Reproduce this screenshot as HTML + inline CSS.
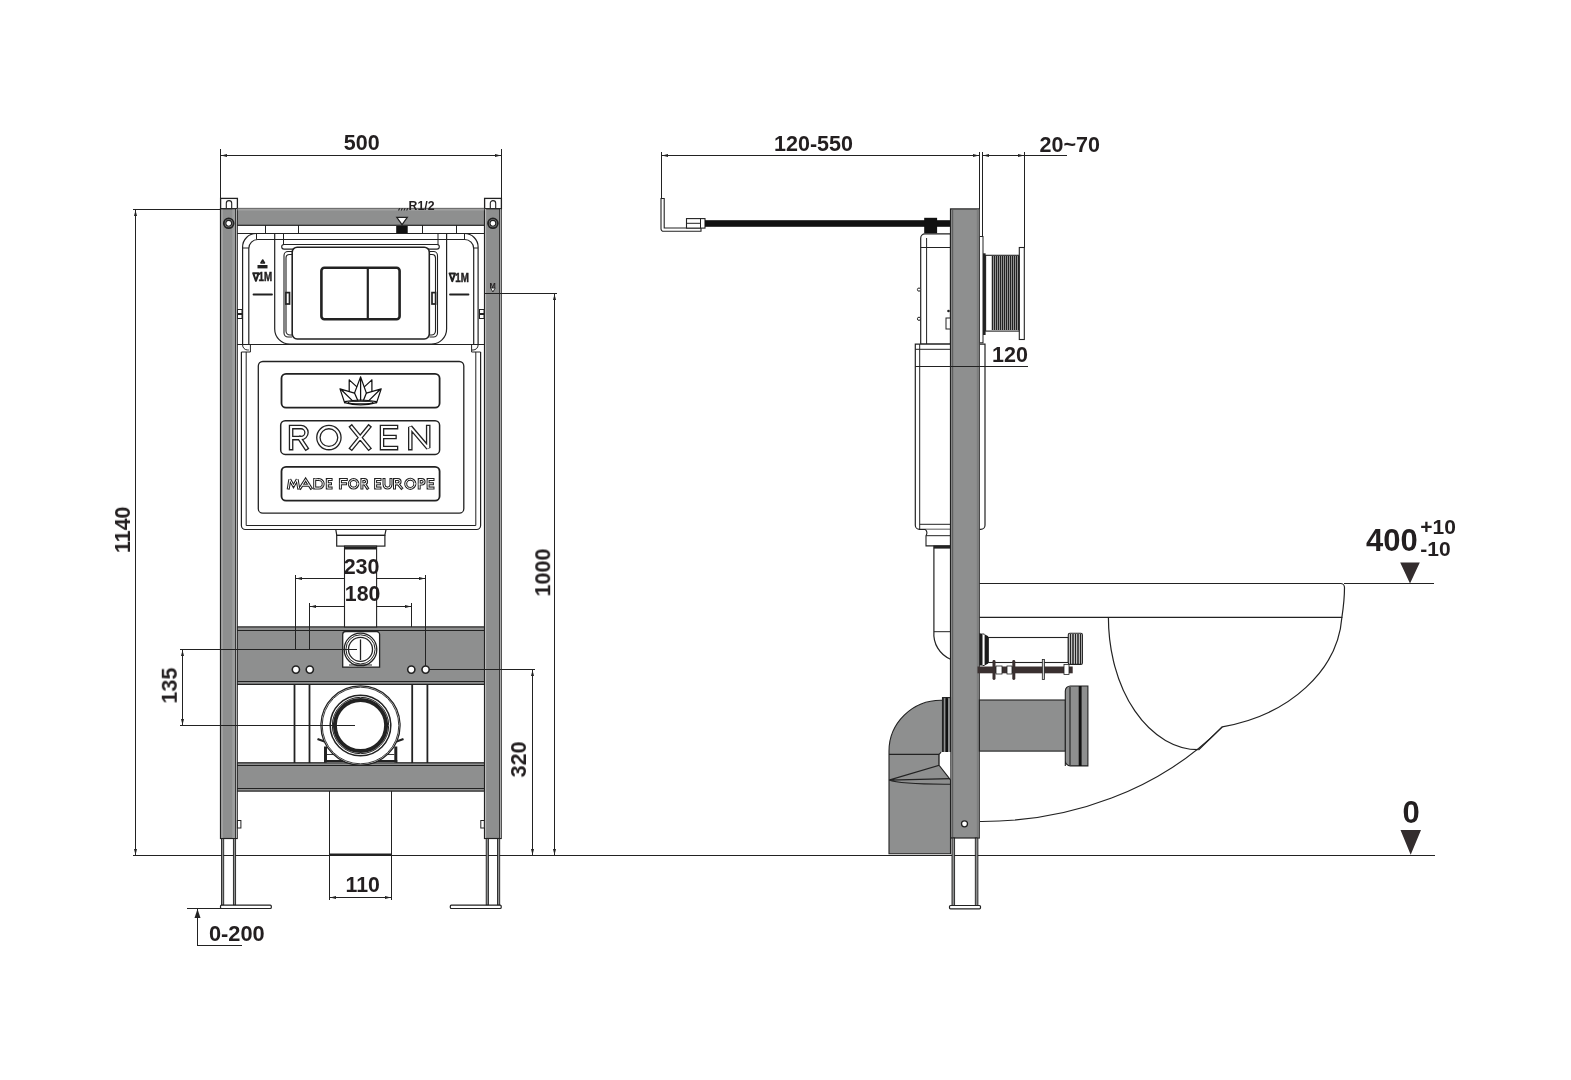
<!DOCTYPE html>
<html><head><meta charset="utf-8">
<style>
html,body{margin:0;padding:0;background:#fff;}
body{width:1571px;height:1080px;overflow:hidden;position:relative;}
svg{position:absolute;left:0;top:0;}
text{will-change:transform;}
text{font-family:"Liberation Sans",sans-serif;font-weight:bold;fill:#231f20;}
</style></head><body>
<svg width="1571" height="1080" viewBox="0 0 1571 1080">
<rect x="0" y="0" width="1571" height="1080" fill="#fff"/>
<!-- ===== LEFT DRAWING ===== -->
<g stroke="#222" fill="none" stroke-width="1">
  <!-- 500 dim -->
  <line x1="220.5" y1="149" x2="220.5" y2="198"/>
  <line x1="501.5" y1="149" x2="501.5" y2="198"/>
  <line x1="220.5" y1="155.5" x2="501.5" y2="155.5"/>
  <path d="M221 155.5 l6 -1.5 v3 z M501 155.5 l-6 -1.5 v3 z" fill="#222" stroke="none"/>
  <!-- 1140 dim -->
  <line x1="133" y1="209.5" x2="221" y2="209.5"/>
  <line x1="135.5" y1="209.5" x2="135.5" y2="855.5"/>
  <path d="M135.5 210 l-1.5 6 h3 z M135.5 855 l-1.5 -6 h3 z" fill="#222" stroke="none"/>
  <!-- floor -->
  <line x1="133" y1="855.5" x2="1435" y2="855.5"/>
  <!-- 1000 dim -->
  
  <line x1="554.5" y1="293.5" x2="554.5" y2="855.5"/>
  <path d="M554.5 294 l-1.5 6 h3 z M554.5 855 l-1.5 -6 h3 z" fill="#222" stroke="none"/>
  <!-- 320 dim -->
  
  <line x1="532.5" y1="669.5" x2="532.5" y2="855.5"/>
  <path d="M532.5 670 l-1.5 6 h3 z M532.5 855 l-1.5 -6 h3 z" fill="#222" stroke="none"/>
  <!-- 135 dim -->
  
  
  <line x1="182.5" y1="649.5" x2="182.5" y2="725.5"/>
  <path d="M182.5 650 l-1.5 6 h3 z M182.5 725 l-1.5 -6 h3 z" fill="#222" stroke="none"/>
  <!-- 230 / 180 dims -->
  <line x1="295.5" y1="578.5" x2="425.5" y2="578.5"/>
  
  
  <line x1="309.5" y1="606.5" x2="411.5" y2="606.5"/>
  
  <line x1="411.5" y1="603" x2="411.5" y2="627"/>
  <path d="M296 578.5 l6 -1.5 v3 z M425 578.5 l-6 -1.5 v3 z M310 606.5 l6 -1.5 v3 z M411 606.5 l-6 -1.5 v3 z" fill="#222" stroke="none"/>
  <!-- 110 dim -->
  <line x1="329.5" y1="791" x2="329.5" y2="900"/>
  <line x1="391.5" y1="791" x2="391.5" y2="900"/>
  <line x1="329.5" y1="897.5" x2="391.5" y2="897.5"/>
  <line x1="329.5" y1="854.5" x2="391.5" y2="854.5" stroke-width="2"/>
  <path d="M330 897.5 l6 -1.5 v3 z M391 897.5 l-6 -1.5 v3 z" fill="#222" stroke="none"/>
  <!-- 0-200 -->
  <line x1="187" y1="908.5" x2="221" y2="908.5"/>
  <line x1="197.5" y1="909" x2="197.5" y2="945.5"/>
  <line x1="197" y1="945.5" x2="242" y2="945.5"/>
  <path d="M197.5 909 l-3 9 h6 z" fill="#222" stroke="none"/>
</g>

<!-- frame -->
<g stroke="#222" stroke-width="1.2" fill="#8e8f8f">
  <!-- brackets -->
  <rect x="220.6" y="198.4" width="16.8" height="10.4" fill="#fff" stroke-width="1.3"/>
  <rect x="484.6" y="198.4" width="16.8" height="10.4" fill="#fff" stroke-width="1.3"/>
  <path d="M226.3 208.5 V203.3 a2.7 2.7 0 0 1 5.4 0 V208.5" fill="none" stroke-width="1.1"/>
  <path d="M490.3 208.5 V203.3 a2.7 2.7 0 0 1 5.4 0 V208.5" fill="none" stroke-width="1.1"/>
  <rect x="220.5" y="208.8" width="16.7" height="629.7"/>
  <rect x="484.5" y="208.8" width="16.7" height="629.7"/>
  <rect x="237.2" y="208.5" width="247.3" height="16.8"/>
  <line x1="237.5" y1="208.5" x2="484.3" y2="208.5" stroke="#707070" stroke-width="1.2"/>
  <line x1="237.5" y1="209.8" x2="484.3" y2="209.8" stroke="#b4b4b4" stroke-width="0.9"/>
  <rect x="237.2" y="626.9" width="247.3" height="57.5"/>
  <rect x="237.2" y="762.8" width="247.3" height="28.3"/>
</g>
<g stroke="#222" stroke-width="1" fill="none">
  <rect x="232.3" y="209.5" width="3" height="628.5" fill="#9d9e9e" stroke="none"/>
  <line x1="222" y1="209.5" x2="222" y2="838" stroke="#b8b8b8" stroke-width="0.9"/>
  <line x1="235.6" y1="209" x2="235.6" y2="838" stroke-width="0.9"/>
  <line x1="236.5" y1="209" x2="236.5" y2="838" stroke="#c8c8c8" stroke-width="0.8"/>
  <line x1="485.6" y1="209" x2="485.6" y2="838" stroke="#c8c8c8" stroke-width="0.9"/>
  <line x1="499.6" y1="209" x2="499.6" y2="838" stroke-width="0.9"/>
  <line x1="500.6" y1="209" x2="500.6" y2="838" stroke="#c8c8c8" stroke-width="0.8"/>
  <text x="489.6" y="287.6" font-family="Liberation Sans" font-weight="bold" font-size="7.5" fill="#222" stroke="none">M</text>
  <path d="M490.6 288 h4.6 l-2.3 4 z" fill="#fff" stroke-width="0.9"/>
  <line x1="237" y1="630.5" x2="484.5" y2="630.5"/>
  <line x1="237" y1="681.5" x2="484.5" y2="681.5"/>
  <line x1="237" y1="765.5" x2="484.5" y2="765.5"/>
  <line x1="237" y1="788.5" x2="484.5" y2="788.5"/>
  <line x1="220.5" y1="293.5" x2="501" y2="293.5" stroke="none"/>
  <line x1="485" y1="293.5" x2="501" y2="293.5"/>
  <!-- screws -->
  <circle cx="228.7" cy="223.3" r="4.9" fill="#8e8f8f" stroke-width="1.8"/>
  <circle cx="228.7" cy="223.3" r="2.9" fill="#fff" stroke-width="1.1"/>
  <circle cx="228.7" cy="223.3" r="1.6" fill="#fff" stroke="none"/>
  <circle cx="492.9" cy="223.3" r="4.9" fill="#8e8f8f" stroke-width="1.8"/>
  <circle cx="492.9" cy="223.3" r="2.9" fill="#fff" stroke-width="1.1"/>
  <circle cx="492.9" cy="223.3" r="1.6" fill="#fff" stroke="none"/>
  <!-- legs -->
  <rect x="221.5" y="838.5" width="2.2" height="66.7" fill="#8e8f8f" stroke-width="0.9"/>
  <rect x="233.4" y="838.5" width="2.2" height="66.7" fill="#8e8f8f" stroke-width="0.9"/>
  <rect x="486.2" y="838.5" width="2.2" height="66.7" fill="#8e8f8f" stroke-width="0.9"/>
  <rect x="497.5" y="838.5" width="2.2" height="66.7" fill="#8e8f8f" stroke-width="0.9"/>
  <rect x="220.5" y="905.2" width="50.8" height="3.3" fill="#fff" stroke-width="1.2" rx="1"/>
  <rect x="450.3" y="905.2" width="50.9" height="3.3" fill="#fff" stroke-width="1.2" rx="1"/>
  <rect x="237.4" y="820.5" width="3.5" height="7.5" fill="#fff"/>
  <rect x="480.8" y="820.5" width="3.5" height="7.5" fill="#fff"/>
  <!-- side tabs near module -->
  <rect x="237.5" y="309.5" width="4.5" height="9" fill="#fff"/>
  <line x1="237.5" y1="314" x2="242" y2="314" stroke-width="2"/>
  <rect x="479.5" y="309.5" width="4.5" height="9" fill="#fff"/>
  <line x1="479.5" y1="314" x2="484" y2="314" stroke-width="2"/>
</g>

<!-- upper module -->
<g stroke="#222" stroke-width="1" fill="none">
  <line x1="237" y1="233.5" x2="484.5" y2="233.5"/>
  <line x1="265.5" y1="225" x2="265.5" y2="233.5"/>
  <line x1="298.5" y1="225" x2="298.5" y2="233.5"/>
  <line x1="422.5" y1="225" x2="422.5" y2="233.5"/>
  <line x1="456.5" y1="225" x2="456.5" y2="233.5"/>
  <rect x="396.2" y="226" width="11.5" height="7.5" fill="#111" stroke="none"/>
  <path d="M396.8 217.3 h10.5 l-5.25 7.3 z" fill="#fff" stroke-width="1.2"/>
  <!-- outer rounded shell -->
  <path d="M242.6 345 V247 a13.5 13.5 0 0 1 13.5 -13.5 H464.6 a13.5 13.5 0 0 1 13.5 13.5 V345" stroke-width="1.2"/>
  <path d="M248.8 345 V248.5 a9 9 0 0 1 9 -9 H464.7 a9 9 0 0 1 9 9 V345" stroke-width="1.2"/>
  <line x1="243" y1="248" x2="249" y2="248"/>
  <line x1="473" y1="248" x2="478" y2="248"/>
  <line x1="256.5" y1="233.5" x2="256.5" y2="239.5"/>
  <line x1="464.5" y1="233.5" x2="464.5" y2="239.5"/>
  <!-- inner rounded (around plate) -->
  <path d="M274.7 233.5 V329 a15 15 0 0 0 15 15 H431.6 a15 15 0 0 0 15 -15 V233.5" stroke-width="1.2"/>
  <line x1="283.5" y1="233.5" x2="283.5" y2="245"/>
  <line x1="438" y1="233.5" x2="438" y2="245"/>
  <line x1="283" y1="239.5" x2="438" y2="239.5"/>
  <path d="M284 244.5 H437 a2.3 2.3 0 0 1 0 4.6 H284 a2.3 2.3 0 0 1 0 -4.6 z" stroke-width="1.1"/>
  <!-- side clips -->
  <path d="M292 251.5 h-4 a4 4 0 0 0 -4 4 V333 a4 4 0 0 0 4 4 h4" stroke-width="1.1"/>
  <path d="M292 254.5 h-2.5 a3.5 3.5 0 0 0 -3.5 3.5 V292 M286 304 V331 a4 4 0 0 0 4 4 h2" stroke-width="1.1"/>
  <rect x="285.9" y="292.6" width="3.6" height="11.4" fill="#fff" stroke-width="1.7"/>
  <path d="M429.5 251.5 h4 a4 4 0 0 1 4 4 V333 a4 4 0 0 1 -4 4 h-4" stroke-width="1.1"/>
  <path d="M429.5 254.5 h2.5 a3.5 3.5 0 0 1 3.5 3.5 V292 M435.5 304 V331 a4 4 0 0 1 -4 4 h-2" stroke-width="1.1"/>
  <rect x="432" y="292.6" width="3.6" height="11.4" fill="#fff" stroke-width="1.7"/>
  <!-- plate -->
  <rect x="292.2" y="247.2" width="137.1" height="91.8" rx="5" fill="#fff" stroke-width="1.6"/>
  <rect x="321.4" y="267.8" width="78.2" height="51.5" rx="3" stroke-width="2.6"/>
  <line x1="367.8" y1="268" x2="367.8" y2="319" stroke-width="2.2"/>
  <!-- bottom line -->
  <line x1="237" y1="344.5" x2="484.5" y2="344.5" stroke-width="1.2"/>
  <!-- dashes -->
  <line x1="253.5" y1="294.5" x2="272" y2="294.5" stroke-width="1.8" stroke-linecap="round"/>
  <line x1="450" y1="294.5" x2="468.5" y2="294.5" stroke-width="1.8" stroke-linecap="round"/>
  <!-- small symbol -->
  <path d="M260.9 263 l1.8 -3 l1.8 3 z" stroke-width="1.5" stroke-linejoin="round"/>
  <rect x="257.5" y="265" width="10" height="3.4" fill="#222" stroke="none"/>
</g>

<!-- tank -->
<g stroke="#222" stroke-width="1.2" fill="none">
  <path d="M241.4 352 V525.5 a4 4 0 0 0 4 4 H476.6 a4 4 0 0 0 4 -4 V352"/>
  <path d="M246.2 352 V525.5 H475.8 V352" stroke-width="1"/>
  <path d="M241.4 352 h9 v-7.5" stroke-width="1"/>
  <path d="M480.6 352 h-9 v-7.5" stroke-width="1"/>
  <path d="M242.6 345 a5 5 0 0 0 5 5 h1.2 M478.1 345 a5 5 0 0 1 -5 5 h-1.2" stroke-width="1"/>
  <rect x="258.3" y="361.5" width="205.5" height="151.7" rx="4.5" stroke-width="1.3"/>
  <rect x="281.5" y="373.8" width="158.1" height="33.9" rx="4.5" stroke-width="1.8"/>
  <rect x="280.7" y="420.8" width="158.9" height="33.6" rx="4.5" stroke-width="1.5"/>
  <rect x="281.5" y="466.8" width="158.1" height="33.9" rx="4.5" stroke-width="1.8"/>
  <!-- outlet -->
  <path d="M335.8 529.7 l1 5.7 h48 l1.2 -5.7"/>
  <rect x="336.7" y="535.4" width="48.2" height="10.7" fill="#fff"/>
  <rect x="344.5" y="546.1" width="32.1" height="80.8" fill="#fff" stroke-width="1.1"/>
  <rect x="344.5" y="546.5" width="32.1" height="3" fill="#222" stroke="none"/>
</g>

<!-- logo -->
<g stroke="#111" stroke-width="1.25" fill="none" stroke-linejoin="round" stroke-linecap="round">
  <path d="M360.6 376.9 L354.5 393.1 L357.6 400.1 M360.6 376.9 L366.4 393.1 L363.6 400.1 M360.6 376.9 V400.1"/>
  <path d="M349.2 379.9 L356.6 386.6 M349.2 379.9 V391.4 M371.9 379.9 L364.6 386.6 M371.9 379.9 V391.4"/>
  <path d="M340 388.9 L354.5 393.1 M340 388.9 L344.6 402.6 M341.8 390.3 L352.4 400.6"/>
  <path d="M381.2 388.9 L366.4 393.1 M381.2 388.9 L376.6 402.6 M379.4 390.3 L368.8 400.6"/>
  <path d="M344.6 402.6 Q360.6 407.2 376.6 402.6 M344.8 401.6 Q360.6 398.6 376.4 401.6"/>
  <ellipse cx="360.6" cy="402.5" rx="12.5" ry="1.3" stroke-width="1.1"/>
</g>
<!-- lower -->
<g stroke="#222" stroke-width="1" fill="none">
  <line x1="294.5" y1="684" x2="294.5" y2="763" stroke-width="1.8"/>
  <line x1="309.5" y1="684" x2="309.5" y2="763" stroke-width="1.8"/>
  <line x1="412.2" y1="684" x2="412.2" y2="763" stroke-width="1.8"/>
  <line x1="427.4" y1="684" x2="427.4" y2="763" stroke-width="1.8"/>
  <!-- fitting -->
  <path d="M342.7 667.1 V634.5 a3 3 0 0 1 3 -3 H376.6 a3 3 0 0 1 3 3 V667.1 Z" fill="#fff" stroke-width="1.3"/>
  <circle cx="360.5" cy="649.4" r="16.3" stroke-width="1.3"/>
  <circle cx="360.5" cy="649.4" r="14.6" stroke-width="1"/>
  <circle cx="360.5" cy="649.4" r="12" stroke-width="1.3"/>
  <line x1="360.5" y1="639.4" x2="360.5" y2="660" stroke-width="1.3"/>
  <line x1="349" y1="665" x2="372" y2="665"/>
  <!-- holes -->
  <circle cx="295.9" cy="669.6" r="3.6" fill="#fff" stroke-width="1.6"/>
  <circle cx="309.8" cy="669.6" r="3.6" fill="#fff" stroke-width="1.6"/>
  <circle cx="411.3" cy="669.6" r="3.6" fill="#fff" stroke-width="1.6"/>
  <circle cx="425.6" cy="669.6" r="3.6" fill="#fff" stroke-width="1.6"/>
  <!-- outlet ring -->
  <path d="M325.5 762.5 V746 H395.8 V762.5 Z" fill="#fff" stroke="none"/>
  <line x1="325.5" y1="746.5" x2="325.5" y2="762.5" stroke-width="3"/>
  <line x1="395.8" y1="746.5" x2="395.8" y2="762.5" stroke-width="3"/>
  <line x1="324" y1="761.3" x2="397.3" y2="761.3" stroke-width="2.4"/>
  <line x1="327" y1="754.5" x2="341" y2="754.5" stroke-width="0.9"/>
  <line x1="380" y1="754.5" x2="394.3" y2="754.5" stroke-width="0.9"/>
  <path d="M317.5 739 l7 2.5 M403.5 739 l-7 2.5" stroke-width="2.2"/>
  <circle cx="360.5" cy="725.5" r="39.6" fill="#fff" stroke-width="1.2"/>
  <circle cx="360.5" cy="725.5" r="38.3" stroke-width="0.9"/>
  <circle cx="360.5" cy="725.5" r="30.3" stroke-width="1.5"/>
  <circle cx="360.5" cy="725.5" r="28.2" stroke-width="1"/>
  <circle cx="360.5" cy="725.5" r="25.6" stroke-width="4"/>
  
</g>

<!-- overlay dims -->
<g stroke="#222" stroke-width="1" fill="none">
  <line x1="180" y1="649.5" x2="357" y2="649.5"/>
  <line x1="180" y1="725.5" x2="355" y2="725.5"/>
  <line x1="295.5" y1="575" x2="295.5" y2="649.5"/>
  <line x1="425.5" y1="575" x2="425.5" y2="666"/>
  <line x1="309.5" y1="603" x2="309.5" y2="649.5"/>
  <line x1="429" y1="669.5" x2="535" y2="669.5"/>
  <line x1="501" y1="293.5" x2="557" y2="293.5"/>
</g>
<g font-family="Liberation Sans" font-weight="bold" fill="#222">
  <text x="361.8" y="150.3" font-size="21.5" text-anchor="middle">500</text>
  <text x="361.6" y="573.8" font-size="21.5" text-anchor="middle">230</text>
  <text x="362.6" y="601.2" font-size="21.3" text-anchor="middle">180</text>
  <text x="362.7" y="891.5" font-size="21.3" text-anchor="middle">110</text>
  <text x="208.9" y="940.8" font-size="21.8">0-200</text>
  <text transform="translate(130,529.8) rotate(-90)" font-size="21.5" text-anchor="middle">1140</text>
  <text transform="translate(176.8,685.6) rotate(-90)" font-size="21.5" text-anchor="middle">135</text>
  <text transform="translate(550.2,572.5) rotate(-90)" font-size="21.5" text-anchor="middle">1000</text>
  <text transform="translate(526,759.4) rotate(-90)" font-size="21.5" text-anchor="middle">320</text>
  <text x="408.6" y="210.4" font-size="12.3">R1/2</text>
  <path d="M398.5 210.5 l1.2 -2.2 M401.2 210.5 l1.2 -2.2 M403.9 210.5 l1.2 -2.2 M406.6 210.5 l1.2 -2.2" stroke="#222" stroke-width="1.1" fill="none"/>
  <text x="258.6" y="281.3" font-size="13" textLength="13.6" lengthAdjust="spacingAndGlyphs" stroke="#222" stroke-width="0.5">1M</text>
  <text x="455.2" y="281.6" font-size="13" textLength="13.6" lengthAdjust="spacingAndGlyphs" stroke="#222" stroke-width="0.5">1M</text>
</g>
<path d="M253.2 273.2 h5.4 l-2.7 7.6 z M449.6 273.5 h5.4 l-2.7 7.6 z" fill="none" stroke="#222" stroke-width="2" stroke-linejoin="round"/>
<!-- ROXEN -->
<g fill="none" stroke-linejoin="miter" stroke-miterlimit="2.2" stroke-linecap="square">
  <g stroke="#222" stroke-width="4.6">
    <path d="M291.1 448.1 V427.1 H301 A5.5 5.5 0 0 1 301 438.1 H291.1 M299.5 438.1 L306.2 448.1 M351.6 427.1 L368.8 448.1 M368.8 427.1 L351.6 448.1 M396 427.1 H382 V448.1 H396 M382 437 H394.5 M410.3 448.1 V427.1 L428.2 448.1 V427.1"/>
    <circle cx="328.9" cy="437.6" r="10.5"/>
  </g>
  <g stroke="#fff" stroke-width="2.0">
    <path d="M291.1 448.1 V427.1 H301 A5.5 5.5 0 0 1 301 438.1 H291.1 M299.5 438.1 L306.2 448.1 M351.6 427.1 L368.8 448.1 M368.8 427.1 L351.6 448.1 M396 427.1 H382 V448.1 H396 M382 437 H394.5 M410.3 448.1 V427.1 L428.2 448.1 V427.1"/>
    <circle cx="328.9" cy="437.6" r="10.5"/>
  </g>
</g>
<g fill="none" stroke-linejoin="miter" stroke-miterlimit="2.5" stroke-linecap="square">
  <g stroke="#222" stroke-width="3.0">
    <path d="M288.4 488.1 L289.8 479.5 L293.5 486 L297.2 479.5 L298.6 488.1 M300.2 488.1 L305.6 479.5 L311 488.1 M302.4 485.2 H308.8 M314.7 479.5 V488.1 H318.9 A4.3 4.3 0 0 0 318.9 479.5 Z M331.1 479.5 H327.3 V488.1 H331.1 M327.3 483.8 H330.5 M346.3 479.5 H340.4 V488.1 M340.4 483.8 H345.5 M361.9 488.1 V479.5 H364.4 A2.2 2.2 0 0 1 364.4 483.9 H361.9 M364.6 483.9 L367.4 488.1 M380 479.5 H375.6 V488.1 H380 M375.6 483.8 H379.4 M384 479.5 V484.6 A3.5 3.5 0 0 0 391 484.6 V479.5 M394.5 488.1 V479.5 H397.9 A2.2 2.2 0 0 1 397.9 483.9 H394.5 M398.1 483.9 L401.5 488.1 M419.2 488.1 V479.5 H421.8 A2.3 2.3 0 0 1 421.8 484.1 H419.2 M433 479.5 H428.1 V488.1 H433 M428.1 483.8 H432.4"/>
    <circle cx="353.6" cy="483.8" r="4.3"/><circle cx="410.3" cy="483.8" r="4.6"/>
  </g>
  <g stroke="#fff" stroke-width="1.0">
    <path d="M288.4 488.1 L289.8 479.5 L293.5 486 L297.2 479.5 L298.6 488.1 M300.2 488.1 L305.6 479.5 L311 488.1 M302.4 485.2 H308.8 M314.7 479.5 V488.1 H318.9 A4.3 4.3 0 0 0 318.9 479.5 Z M331.1 479.5 H327.3 V488.1 H331.1 M327.3 483.8 H330.5 M346.3 479.5 H340.4 V488.1 M340.4 483.8 H345.5 M361.9 488.1 V479.5 H364.4 A2.2 2.2 0 0 1 364.4 483.9 H361.9 M364.6 483.9 L367.4 488.1 M380 479.5 H375.6 V488.1 H380 M375.6 483.8 H379.4 M384 479.5 V484.6 A3.5 3.5 0 0 0 391 484.6 V479.5 M394.5 488.1 V479.5 H397.9 A2.2 2.2 0 0 1 397.9 483.9 H394.5 M398.1 483.9 L401.5 488.1 M419.2 488.1 V479.5 H421.8 A2.3 2.3 0 0 1 421.8 484.1 H419.2 M433 479.5 H428.1 V488.1 H433 M428.1 483.8 H432.4"/>
    <circle cx="353.6" cy="483.8" r="4.3"/><circle cx="410.3" cy="483.8" r="4.6"/>
  </g>
</g>
<!-- ===== RIGHT DRAWING ===== -->
<g stroke="#222" fill="none" stroke-width="1">
  <line x1="661.5" y1="152" x2="661.5" y2="212"/>
  <line x1="661.5" y1="155.5" x2="979.5" y2="155.5"/>
  <line x1="979.5" y1="152" x2="979.5" y2="209"/>
  <line x1="982.5" y1="152" x2="982.5" y2="237"/>
  <line x1="982.5" y1="155.5" x2="1067" y2="155.5"/>
  <line x1="1024.5" y1="152" x2="1024.5" y2="248"/>
  <path d="M662 155.5 l6 -1.5 v3 z M979 155.5 l-6 -1.5 v3 z M983 155.5 l6 -1.5 v3 z M1024 155.5 l-6 -1.5 v3 z" fill="#222" stroke="none"/>
  <!-- bracket -->
  <path d="M661 198.5 h3.2 v29.5 h36.8 v3.3 h-37.5 a2.5 2.5 0 0 1 -2.5 -2.5 z" fill="#fff" stroke-width="1.1"/>
  <rect x="686.5" y="218.6" width="18.5" height="9.5" fill="#fff" stroke-width="1.1"/>
  <line x1="686.5" y1="223.3" x2="700.5" y2="223.3"/>
  <line x1="700.5" y1="218.6" x2="700.5" y2="228.1"/>
  <rect x="705" y="220.2" width="245.5" height="6.6" fill="#111" stroke="none"/>
  <rect x="924.2" y="217.8" width="12.9" height="15.5" fill="#111" stroke="none"/>
</g>
<!-- tank side -->
<g stroke="#222" stroke-width="1.2" fill="#fff">
  <path d="M950.5 233.9 H925 a4.3 4.3 0 0 0 -4.3 4.3 V344 H950.5 Z"/>
  <line x1="926.6" y1="238" x2="926.6" y2="344" stroke-width="1"/>
  <line x1="920.7" y1="247.5" x2="950.5" y2="247.5" stroke-width="1"/>
  <circle cx="919" cy="289.6" r="1.6" stroke-width="1"/>
  <circle cx="919" cy="318.8" r="1.6" stroke-width="1"/>
  <rect x="946" y="318" width="4.5" height="11" stroke-width="1"/>
  <circle cx="948.5" cy="311" r="1.3" fill="#222" stroke="none"/>
  <path d="M950.5 344.1 H915.3 V525.2 a4.2 4.2 0 0 0 4.2 4.2 H950.5"/>
  <line x1="919.7" y1="344.1" x2="919.7" y2="529" stroke-width="1"/>
  <line x1="915.3" y1="349.3" x2="950.5" y2="349.3" stroke-width="1"/>
  <line x1="919.7" y1="524.3" x2="950.5" y2="524.3" stroke-width="1"/>
  <path d="M979.3 344.1 H985 V525.2 a4.2 4.2 0 0 1 -4.2 4.2 H979.3" />
  <!-- neck -->
  <path d="M925.2 529.4 a5 5 0 0 1 0.8 6.3 V545.9 H950.5 V529.4" stroke-width="1.1"/>
  <line x1="926" y1="535.7" x2="950.5" y2="535.7" stroke-width="1"/>
  <path d="M950.5 546 H933.9 V631.7 a27.5 27.5 0 0 0 16.6 27.5" stroke-width="1.2"/>
  <rect x="933.9" y="546" width="16.6" height="2.6" fill="#222" stroke="none"/>
  <line x1="933.9" y1="631.7" x2="950.5" y2="631.7" stroke-width="1"/>
  <!-- flush pipe -->
  <rect x="979.3" y="236.5" width="3.7" height="106.3" stroke-width="1"/>
  <rect x="983" y="253.3" width="2.6" height="81.7" fill="#222" stroke="none"/>
  <rect x="985.6" y="255.3" width="33.7" height="75.8" stroke-width="1.1"/>
  <rect x="1019.3" y="247.5" width="5" height="92" stroke-width="1.1"/>
</g>
<g stroke="#222" stroke-width="1" fill="none">
  <path d="M992.5 256 V330 M994.5 256 V330 M996.5 256 V330 M998.5 256 V330 M1000.5 256 V330 M1002.5 256 V330 M1004.5 256 V330 M1006.5 256 V330 M1008.5 256 V330 M1010.5 256 V330 M1012.5 256 V330 M1014.5 256 V330 M1016.5 256 V330 M1018.5 256 V330" stroke-width="1.5"/>
  <line x1="915" y1="366.5" x2="1028" y2="366.5"/>
</g>
<!-- post -->
<g stroke="#222" stroke-width="1.2" fill="#8e8f8f">
  <rect x="950.5" y="208.9" width="28.8" height="629.1"/>
</g>
<g stroke="#222" stroke-width="1" fill="none">
  <line x1="952.7" y1="209" x2="952.7" y2="838" stroke="#555"/>
  <rect x="976.8" y="209.5" width="2.5" height="628" fill="#7d7e7e" stroke="none"/>
  <circle cx="964.5" cy="823.8" r="3" fill="#fff" stroke-width="1.3"/>
  <rect x="952" y="838" width="2.6" height="67.5" fill="#8e8f8f" stroke-width="0.9"/>
  <rect x="975.3" y="838" width="2.6" height="67.5" fill="#8e8f8f" stroke-width="0.9"/>
  <rect x="949.5" y="905.5" width="31" height="3.3" fill="#fff" stroke-width="1.2" rx="1"/>
</g>
<!-- elbow -->
<g stroke="#222" stroke-width="1.1" fill="#8e8f8f">
  <path d="M889 853.8 V751 A52 50.8 0 0 1 941.1 700.2 H950.5 V853.8 Z"/>
  <rect x="942.5" y="697.6" width="8" height="56.1"/>
  <line x1="943.5" y1="698" x2="943.5" y2="753.5" stroke-width="0.8"/>
  <rect x="945.4" y="697.4" width="2.6" height="56.6" rx="1.3" fill="#111" stroke="none"/>
  <path d="M889 754.4 H939.1 V765.4 L889 780.1 M889 780.1 L950.5 778.6 M889 780.1 Q900 784.5 950.5 784.2" fill="none"/>
  <path d="M939.1 754.4 L941.1 752.1 H950.3 V779.6 L939.1 765.4 Z" fill="#fff" stroke="none"/>
  <path d="M939.1 754.4 L941.1 752.1 M939.1 754.4 V765.4 L950.3 779.6" fill="none"/>
</g>
<!-- toilet -->
<g stroke="#222" stroke-width="1.2" fill="none">
  <path d="M979.5 583.5 H1340.5 a4 4 0 0 1 4 4 C1344.5 600 1343 610 1341.9 617.3 H979.5"/>
  <line x1="1344" y1="583.5" x2="1434" y2="583.5"/>
  <path d="M1341.9 617.3 C1338 670 1290 715 1222.3 726.8 L1198.7 749.7"/>
  <path d="M1108.4 617.3 A90.3 132.4 0 0 0 1198.7 749.7"/>
  <path d="M1222.3 726.8 C1160 790 1070 822 980 821.5"/>
</g>
<!-- fittings -->
<g stroke="#222" stroke-width="1.1" fill="#fff">
  <rect x="988.3" y="637.5" width="80" height="25"/>
  <path d="M979.4 633.3 L982.5 633.8 V665.6 H979.4 Z" fill="#1a1a1a" stroke="none"/>
  <path d="M984.6 634.3 L988.2 636.2 V663.5 L984.6 665.4 Z" fill="#1a1a1a" stroke="none"/>
  <line x1="982.5" y1="633.8" x2="984.6" y2="634.3" stroke-width="1"/>
  <line x1="982.5" y1="665.6" x2="984.6" y2="665.4" stroke-width="1"/>
  <rect x="1068.3" y="633.3" width="14.1" height="31.1" rx="1.5"/>
  <path d="M1070.5 634 V664 M1073 634 V664 M1075.5 634 V664 M1078 634 V664 M1080.5 634 V664" fill="none" stroke-width="1.6"/>
  <rect x="977.5" y="666.5" width="95.2" height="6.8" fill="#3a3030" stroke="none"/>
  <rect x="992.5" y="660" width="3" height="20" rx="1.4" fill="#3a3030" stroke="none"/>
  <rect x="1012.3" y="660" width="3" height="20" rx="1.4" fill="#3a3030" stroke="none"/>
  <rect x="1042.3" y="659.5" width="2.2" height="20" fill="#ccc" stroke-width="0.8"/>
  <rect x="996" y="666" width="6" height="8" stroke-width="0.8"/>
  <rect x="1007" y="666" width="5" height="8" stroke-width="0.8"/>
  <rect x="1064" y="664.5" width="5" height="10" stroke-width="0.8"/>
  
</g>
<g stroke="#222" stroke-width="1.1" fill="#8e8f8f">
  <rect x="979.4" y="700" width="86" height="51.1"/>
  <path d="M1065.3 765.9 V691 a5 5 0 0 1 5 -5 H1087.9 V765.9 H1070.3 a5 5 0 0 1 -5 -5 Z"/>
  <rect x="1078.7" y="686" width="2.9" height="80" fill="#111" stroke="none"/>
  <line x1="1070" y1="687" x2="1070" y2="765"/>
</g>
<line x1="915" y1="366.5" x2="1028" y2="366.5" stroke="#222" stroke-width="1"/>
<!-- right labels -->
<path d="M1400.2 562.5 H1419.8 L1410 583.5 Z M1400.5 830 H1421 L1410.7 854.7 Z" fill="#332d2e"/>
<g font-family="Liberation Sans" font-weight="bold" fill="#222">
  <text x="813.5" y="151.3" font-size="21.5" text-anchor="middle">120-550</text>
  <text x="1039.5" y="151.6" font-size="21.5">20~70</text>
  <text x="992" y="361.6" font-size="21.5">120</text>
  <text x="1366" y="551.1" font-size="31" fill="#332d2e">400</text>
  <text x="1420.3" y="533.9" font-size="21" fill="#332d2e">+10</text>
  <text x="1420.3" y="556.3" font-size="21" fill="#332d2e">-10</text>
  <text x="1402.6" y="823" font-size="31" fill="#332d2e">0</text>
</g>

</svg>
</body></html>
